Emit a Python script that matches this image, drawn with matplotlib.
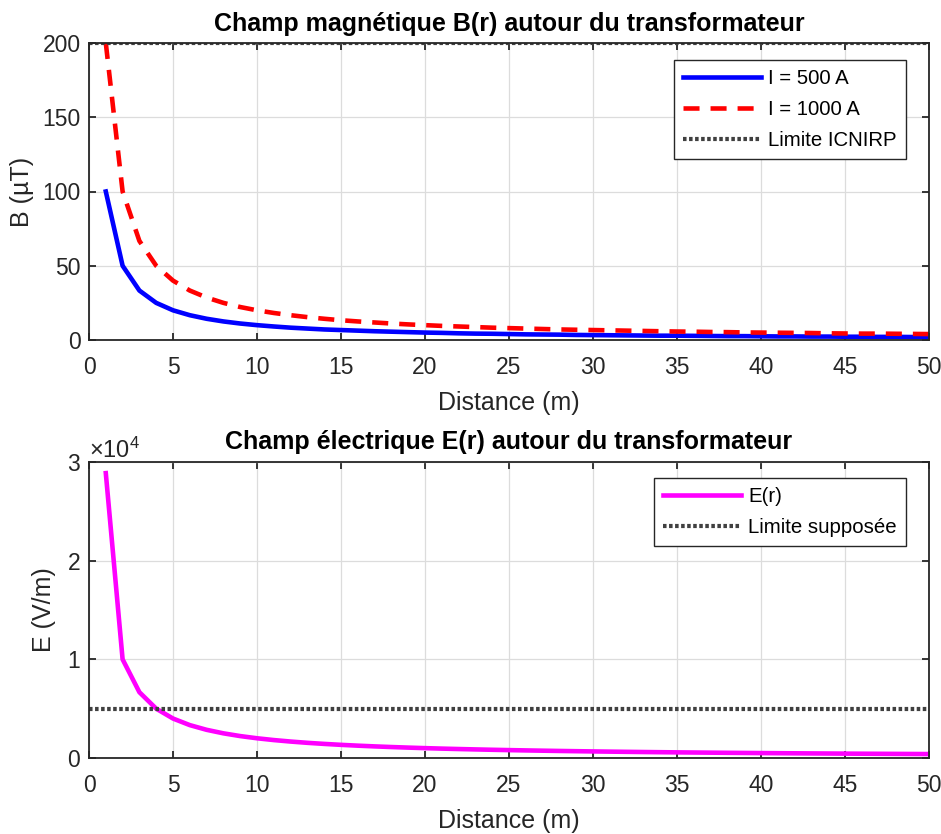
import matplotlib
matplotlib.use("Agg")
import matplotlib.pyplot as plt
from matplotlib.ticker import ScalarFormatter

fam = ['Liberation Sans', 'DejaVu Sans']
plt.rcParams['font.family'] = fam
plt.rcParams['mathtext.fontset'] = 'custom'
plt.rcParams['mathtext.rm'] = fam[0]

# ---- data ----
r = list(range(1, 51))
B_500 = [100, 50, 33.3, 25, 20, 16.7, 14.3, 12.5, 11.1, 10, 9.1, 8.3, 7.7, 7.1, 6.7,
         6.3, 5.9, 5.6, 5.3, 5.0, 4.8, 4.5, 4.3, 4.2, 4.0, 3.8, 3.7, 3.6, 3.4, 3.3,
         3.2, 3.1, 3.0, 2.9, 2.9, 2.8, 2.7, 2.6, 2.6, 2.5, 2.4, 2.4, 2.3, 2.3, 2.2,
         2.2, 2.1, 2.1, 2.0, 2.0]
B_1000 = [200, 100, 66.7, 50, 40, 33.3, 28.6, 25, 22.2, 20, 18.2, 16.7, 15.4, 14.3, 13.3,
          12.5, 11.8, 11.1, 10.5, 10.0, 9.5, 9.1, 8.7, 8.3, 8.0, 7.7, 7.4, 7.1, 6.9, 6.7,
          6.5, 6.3, 6.1, 5.9, 5.7, 5.6, 5.4, 5.3, 5.1, 5.0, 4.9, 4.8, 4.7, 4.5, 4.4,
          4.3, 4.3, 4.2, 4.1, 4.0]
E_r = [28870, 10000, 6667, 5000, 4000, 3333, 2857, 2500, 2222, 2000, 1818, 1667, 1538,
       1429, 1333, 1250, 1176, 1111, 1053, 1000, 952, 909, 870, 833, 800, 769, 741, 714,
       690, 667, 645, 625, 606, 588, 571, 556, 541, 526, 513, 500, 488, 476, 465, 455,
       444, 435, 426, 417, 408, 400]
B_limit = 200
E_limit = 5000
x_ticks = [0, 5, 10, 15, 20, 25, 30, 35, 40, 45, 50]
B_ticks = [0, 50, 100, 150, 200]
E_ticks = [0, 10000, 20000, 30000]

W, H = 941, 834
fig = plt.figure(figsize=(W / 100, H / 100), dpi=100)
ax1 = fig.add_axes([89 / W, 1 - 340 / H, (929 - 89) / W, (340 - 43) / H])
ax2 = fig.add_axes([89 / W, 1 - 758 / H, (929 - 89) / W, (758 - 462) / H])

lim_col = '#404040'
txt_col = '#262626'
fs_tick = 16.5
fs_lab = 18
fs_title = 18
fs_leg = 14.7

def style(ax):
    ax.set_xlim(0, 50)
    ax.set_xticks(x_ticks)
    ax.grid(True, color='#dcdcdc', linewidth=0.9)
    ax.set_axisbelow(True)
    ax.tick_params(direction='in', top=True, right=True, length=5, width=1.3,
                   labelsize=fs_tick, colors=txt_col)
    ax.tick_params(axis='x', pad=11.5)
    ax.tick_params(axis='y', pad=6)
    for s in ax.spines.values():
        s.set_linewidth(1.3)
        s.set_color(txt_col)
    ax.set_xlabel('Distance (m)', fontsize=fs_lab, color=txt_col, labelpad=8.5)

def legend(ax, anchor):
    lg = ax.legend(loc='upper right', bbox_to_anchor=anchor, fontsize=fs_leg,
                   frameon=True, fancybox=False, edgecolor=txt_col, handlelength=3.8,
                   borderpad=0.45, labelspacing=0.58, handletextpad=0.35, borderaxespad=0)
    lg.get_frame().set_linewidth(1.0)
    lg.get_frame().set_alpha(1.0)
    return lg

ax1.plot(r, B_500, color='#0000ff', lw=3.3, label='I = 500 A')
ax1.plot(r, B_1000, color='#ff0000', lw=3.3, ls=(0, (3.5, 2.4)), label='I = 1000 A')
ax1.axhline(B_limit, color=lim_col, lw=3.0, ls=(0, (0.85, 0.6)), label='Limite ICNIRP')
ax1.set_ylim(0, 200)
ax1.set_yticks(B_ticks)
style(ax1)
ax1.set_ylabel('B (µT)', fontsize=fs_lab, color=txt_col, labelpad=6)
ax1.set_title('Champ magnétique B(r) autour du transformateur', fontsize=fs_title,
              fontweight='bold', pad=9)
legend(ax1, ((906 - 89) / (929 - 89), (340 - 60) / (340 - 43)))

ax2.plot(r, E_r, color='#ff00ff', lw=3.3, label='E(r)')
ax2.axhline(E_limit, color=lim_col, lw=3.0, ls=(0, (0.85, 0.6)), label='Limite supposée')
ax2.set_ylim(0, 30000)
ax2.set_yticks(E_ticks)
fmt = ScalarFormatter(useMathText=True)
fmt.set_powerlimits((0, 0))
ax2.yaxis.set_major_formatter(fmt)
style(ax2)
ax2.yaxis.get_offset_text().set_fontsize(17)
ax2.yaxis.get_offset_text().set_color(txt_col)
ax2.set_ylabel('E (V/m)', fontsize=fs_lab, color=txt_col, labelpad=8)
ax2.set_title('Champ électrique E(r) autour du transformateur', fontsize=fs_title,
              fontweight='bold', pad=9)
legend(ax2, ((906 - 89) / (929 - 89), (758 - 478) / (758 - 462)))

fig.savefig('out.png', dpi=100, facecolor='white')
